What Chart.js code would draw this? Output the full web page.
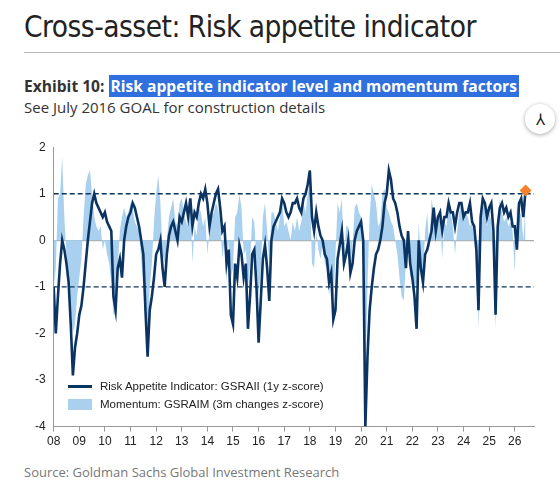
<!DOCTYPE html>
<html><head><meta charset="utf-8">
<script src="https://cdn.jsdelivr.net/npm/chart.js@4.4.1/dist/chart.umd.min.js"></script>
<style>
body{margin:0;width:560px;height:502px;background:#fff;font-family:"Open Sans",sans-serif;position:relative;overflow:hidden}
#title{position:absolute;left:24px;top:10px;font-family:"DejaVu Sans Condensed","Roboto Condensed",sans-serif;font-size:29.5px;color:#222;letter-spacing:-0.5px}
#rule{position:absolute;left:24px;right:0;top:52px;border-top:1px solid #bbb}
#exh{position:absolute;left:24px;top:75px;font-size:15.6px;font-weight:bold;color:#333}
#exh span{background:#2f6fde;color:#fff;padding:0 2px}
#sub{position:absolute;left:24px;top:97px;font-size:15px;color:#333}
#icon{position:absolute;left:525px;top:104px;width:30px;height:30px;border-radius:50%;background:#fff;box-shadow:0 1px 4px rgba(0,0,0,.35);text-align:center;line-height:30px;font-size:16px;color:#222}
#wrap{position:absolute;left:27px;top:132px;width:513px;height:320px}
#legend{position:absolute;left:68px;top:377px;font-family:"Liberation Sans",Arial,sans-serif;font-size:11.5px;color:#222;line-height:18px}
#legend i{display:inline-block;width:24px;vertical-align:middle;margin-right:8px}
#src{position:absolute;left:24px;top:463px;font-size:13px;color:#777}
</style></head>
<body>
<div id="title">Cross-asset: Risk appetite indicator</div>
<div id="rule"></div>
<div id="exh">Exhibit 10: <span>Risk appetite indicator level and momentum factors</span></div>
<div id="sub">See July 2016 GOAL for construction details</div>
<div id="icon">&#x2144;</div>
<div id="wrap"><canvas id="c"></canvas></div>
<div id="legend">
<div><i style="height:3px;background:#0b3462"></i>Risk Appetite Indicator: GSRAII (1y z-score)</div>
<div><i style="height:11px;background:#a9d1ef"></i>Momentum: GSRAIM (3m changes z-score)</div>
</div>
<div id="src">Source: Goldman Sachs Global Investment Research</div>
<script>
// monthly readings, Jan 2008 .. Jun 2026
const gsraii = [
-1.0,-2.0,-1.2,-0.5,0.0,-0.2,-0.5,-0.9,-1.8,-2.9,-2.3,-2.0,
-1.6,-1.4,-1.0,-0.5,0.0,0.4,0.8,1.0,0.8,0.7,0.6,0.5,
0.6,0.4,0.3,0.2,-1.2,-1.5,-0.6,-0.4,-0.8,0.0,0.3,0.5,
0.6,0.8,0.7,0.5,0.3,0.0,-0.3,-1.5,-2.5,-1.5,-1.2,-0.8,
-0.3,-0.2,0.0,-0.6,-1.0,-0.3,0.1,0.3,0.4,0.2,0.0,0.5,
0.4,0.6,0.8,0.5,0.9,0.3,0.6,0.5,0.8,1.0,0.9,1.1,
0.8,0.3,0.6,0.8,1.0,1.1,0.7,0.2,0.3,-0.5,-0.2,-1.6,
-1.8,-0.5,-0.8,-0.1,-0.3,-0.8,-0.5,-1.9,-1.2,-0.3,-0.2,-1.0,
-2.2,-1.3,-0.4,-0.1,-0.6,-1.3,0.0,0.3,0.4,0.5,0.6,0.9,
0.8,0.6,0.5,0.6,0.8,0.8,0.9,0.7,0.6,0.9,1.0,1.2,
1.5,0.5,0.2,0.6,0.3,0.1,0.0,-0.3,-0.4,-0.9,-0.7,-1.7,
-1.5,-0.4,-0.1,0.2,-0.5,-0.3,0.0,-0.7,-0.5,0.0,0.2,0.3,
0.4,0.0,-4.0,-2.5,-1.5,-1.0,-0.6,-0.3,-0.2,0.0,0.3,0.8,
1.0,1.5,1.3,0.9,0.8,0.6,0.3,0.1,0.0,-0.6,0.2,-0.5,
-0.8,-1.2,-1.9,0.0,-0.6,-0.9,-0.3,-0.2,0.0,0.2,0.7,0.2,
0.5,0.6,0.2,0.5,0.5,0.8,0.6,0.6,0.3,0.6,0.8,0.8,
0.5,0.6,0.6,0.8,0.4,0.3,-0.2,-1.5,0.5,0.9,0.8,0.5,
0.7,0.8,0.2,-1.6,0.3,0.7,0.8,0.6,0.7,0.5,0.6,0.3,
0.3,-0.2,0.8,0.9,0.5,1.05];
const gsraim = [
-1.0,-0.6,0.9,1.0,1.8,0.5,-0.3,-1.0,-1.5,-2.0,-1.8,-1.2,
-0.8,-0.4,0.5,1.2,1.4,1.5,1.0,0.5,0.3,0.2,0.3,-0.2,
0.0,-0.3,-0.5,-0.9,-1.6,-1.6,-0.6,0.2,0.5,0.7,0.5,0.6,
0.8,0.7,0.4,0.3,0.2,-0.4,-1.0,-1.8,-2.2,-1.0,-0.5,0.4,
1.0,1.4,0.8,-0.3,-0.5,0.0,0.5,0.7,0.9,0.4,0.3,0.8,
0.9,0.6,0.4,0.3,0.9,-0.5,0.3,0.1,0.7,0.6,0.3,0.5,
-0.3,0.2,0.5,0.6,0.8,0.7,0.4,-0.4,0.0,-0.9,0.0,-0.8,
-0.6,0.5,0.6,1.0,0.7,-0.3,-0.2,-1.0,-0.5,0.5,0.4,-0.5,
-1.2,-0.7,0.5,0.8,0.2,-0.5,0.6,0.6,0.4,0.2,0.5,0.9,
0.3,0.4,0.2,0.0,0.4,0.2,0.5,0.2,0.4,0.8,0.6,1.0,
1.2,-0.5,-0.6,0.2,-0.2,-0.4,-0.1,-0.5,-0.6,-1.2,-0.7,-1.4,
-0.3,0.8,0.6,0.9,-0.4,0.3,0.3,-0.6,-0.1,0.7,0.8,0.6,
0.5,-0.5,-3.0,-1.0,0.5,1.2,1.0,0.8,0.3,0.4,1.0,1.1,
0.7,0.6,0.4,0.3,0.0,-0.3,-0.8,-1.2,-1.3,-0.5,0.0,-0.8,
-0.8,-1.0,-0.9,0.4,-0.5,-0.8,0.2,0.6,-0.2,0.9,0.6,0.2,
0.4,0.5,-0.4,0.4,0.3,0.8,0.6,0.3,-0.3,0.2,0.6,0.8,
0.5,0.6,0.5,0.3,0.4,0.0,-0.5,-1.9,0.4,0.8,0.7,0.3,
0.6,0.4,-0.5,-1.9,0.5,0.9,0.6,0.4,0.5,0.3,0.4,0.2,
-0.7,0.8,0.5,0.6,0.0,0.8];
const startYear = 2008;
const xYears = [2008,2009,2010,2011,2012,2013,2014,2015,2016,2017,2018,2019,2020,2021,2022,2023,2024,2025,2026];
const latest = {x: 2026.42, y: 1.07};
const yTicks = [-4,-3,-2,-1,0,1,2];

const pts = arr => arr.map((v,i)=>({x: startYear + i/12, y: v}));
const xMax = 2026.75;

new Chart(document.getElementById('c'), {
  type: 'line',
  data: { datasets: [
    {data:[{x:latest.x,y:latest.y}], type:'scatter', pointStyle:'rectRot', pointRadius:6, backgroundColor:'#f5822a', borderWidth:0},
    {data:pts(gsraii), borderColor:'#0b3462', borderWidth:2.6, pointRadius:0, tension:0},
    {data:[{x:startYear,y:1},{x:xMax,y:1}], borderColor:'#0b3462', borderWidth:1.3, borderDash:[5,3], pointRadius:0},
    {data:[{x:startYear,y:-1},{x:xMax,y:-1}], borderColor:'#0b3462', borderWidth:1.3, borderDash:[5,3], pointRadius:0},
    {data:pts(gsraim), borderWidth:0, backgroundColor:'#a9d1ef', fill:'origin', pointRadius:0, tension:0}
  ]},
  options: {
    responsive:true, maintainAspectRatio:false, animation:false,
    layout:{padding:{top:6,right:0}},
    plugins:{legend:{display:false}, tooltip:{enabled:false}},
    scales:{
      x:{type:'linear', min:startYear, max:xMax,
         afterBuildTicks:ax=>{ax.ticks=xYears.map(v=>({value:v}));},
         grid:{drawOnChartArea:false, color:'#999', tickLength:5},
         border:{color:'#999'},
         ticks:{autoSkip:false, maxRotation:0, color:'#222', font:{family:'Liberation Sans', size:12},
           callback:v=> String(v%100).padStart(2,'0')}},
      y:{min:-4, max:2, afterBuildTicks:ax=>{ax.ticks=yTicks.map(v=>({value:v}));},
         grid:{color:c=> c.tick && c.tick.value===0 ? '#aaa' : 'transparent', lineWidth:1.2, drawTicks:false},
         border:{color:'#999'},
         ticks:{color:'#222', padding:8, font:{family:'Liberation Sans', size:12}}}
    }
  }
});
</script>
</body></html>
